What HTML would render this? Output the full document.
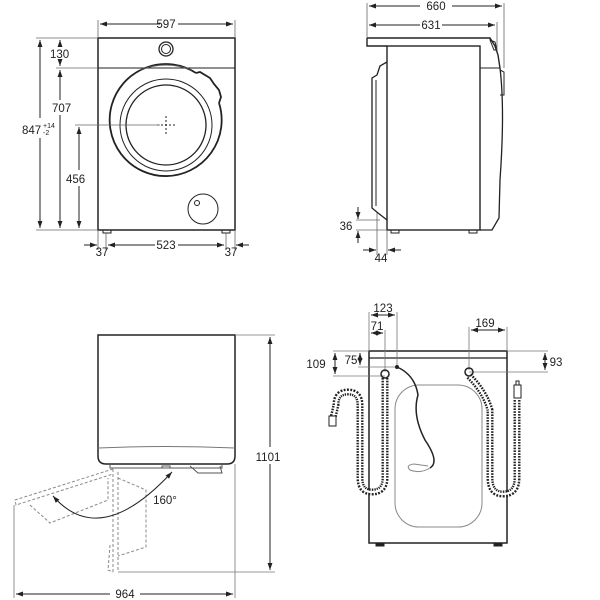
<!DOCTYPE html>
<html><head><meta charset="utf-8"><style>
html,body{margin:0;padding:0;background:#fff}
svg{display:block}
text{font-family:"Liberation Sans",sans-serif;font-size:11.5px;fill:#222}
</style></head><body>
<svg width="600" height="600" viewBox="0 0 600 600" xmlns="http://www.w3.org/2000/svg">
<defs>
<marker id="a" viewBox="0 0 10 10" refX="10" refY="5" markerWidth="7" markerHeight="7" orient="auto-start-reverse"><path d="M0,1.5 L10,5 L0,8.5 z" fill="#222"/></marker>
</defs>
<g fill="none" stroke="#222" stroke-width="1">
<!-- FRONT VIEW -->
<rect x="98" y="38" width="137" height="192" stroke-width="1.5"/>
<line x1="98" y1="68" x2="235" y2="68"/>
<circle cx="166" cy="49" r="7" stroke-width="1.3"/><circle cx="166" cy="49" r="4.5"/>
<path d="M196,73 A56,56 0 1 0 219,103" stroke-width="1.8"/>
<path d="M196,73 L200,72 L210,78 L214,84 L219,90 L221,97 L219,103" stroke-width="1.8"/>
<path d="M140,70 Q166,60 192,70" stroke="#555"/>
<circle cx="166" cy="125" r="46"/><circle cx="166" cy="125" r="40" stroke-width="1.3"/>
<g stroke-dasharray="2,2"><line x1="166" y1="116" x2="166" y2="134"/><line x1="157" y1="125" x2="175" y2="125"/></g>
<circle cx="203" cy="209" r="15"/><circle cx="197" cy="203" r="2.5"/>
<rect x="103" y="230" width="8" height="3"/><rect x="222" y="230" width="8" height="3"/>
<g stroke="#666" stroke-width="0.8">
<line x1="98" y1="20" x2="98" y2="38"/><line x1="235" y1="20" x2="235" y2="38"/>
<line x1="36" y1="38" x2="98" y2="38"/><line x1="36" y1="230" x2="98" y2="230"/>
<line x1="56" y1="68" x2="98" y2="68"/><line x1="75" y1="125" x2="160" y2="125"/>
<line x1="98" y1="230" x2="98" y2="250"/><line x1="235" y1="230" x2="235" y2="250"/>
<line x1="106" y1="233" x2="106" y2="250"/><line x1="226" y1="233" x2="226" y2="250"/>
</g>
<line x1="100" y1="24" x2="160" y2="24" marker-start="url(#a)"/><line x1="178" y1="24" x2="233" y2="24" marker-end="url(#a)"/>
<line x1="40" y1="40" x2="40" y2="118" marker-start="url(#a)"/><line x1="40" y1="138" x2="40" y2="228" marker-end="url(#a)"/>
<line x1="60" y1="40" x2="60" y2="46" marker-start="url(#a)"/><line x1="60" y1="62" x2="60" y2="66" marker-end="url(#a)"/>
<line x1="60" y1="70" x2="60" y2="100" marker-start="url(#a)"/><line x1="60" y1="115" x2="60" y2="228" marker-end="url(#a)"/>
<line x1="79" y1="127" x2="79" y2="170" marker-start="url(#a)"/><line x1="79" y1="186" x2="79" y2="228" marker-end="url(#a)"/>
<line x1="108" y1="245" x2="155" y2="245" marker-start="url(#a)"/><line x1="178" y1="245" x2="224" y2="245" marker-end="url(#a)"/>
<line x1="84" y1="245" x2="97" y2="245" marker-end="url(#a)"/><line x1="249" y1="245" x2="236" y2="245" marker-end="url(#a)"/>

<!-- SIDE VIEW -->
<path d="M367,38 L490,38 L495,46 L498,55 L500,68" stroke-width="1.4"/>
<path d="M367,38 L367,46 L387,46" stroke-width="1.4"/>
<rect x="387" y="46" width="93" height="184" stroke-width="1.4"/>
<line x1="480" y1="68" x2="500" y2="68"/>
<path d="M500,68 Q505,110 500,180 L499,218 L492,230 L480,230" stroke-width="1.3"/>
<path d="M500,70 L504,72 L504,95 L500,95"/>
<path d="M490,40 L494,50 L497,50 L495,42 z"/>
<path d="M387,62 L380,66 L377,75 L372,78 L372,208 L378,213 L387,220" stroke-width="1.3"/>
<path d="M376,80 L376,206"/>
<rect x="391" y="230" width="8" height="3"/><rect x="469" y="230" width="8" height="3"/>
<g stroke="#666" stroke-width="0.8">
<line x1="367" y1="3" x2="367" y2="38"/><line x1="504" y1="3" x2="504" y2="68"/><line x1="497" y1="22" x2="497" y2="50"/>
<line x1="356" y1="220" x2="380" y2="220"/><line x1="356" y1="230" x2="387" y2="230"/>
<line x1="377" y1="213" x2="377" y2="255"/><line x1="387" y1="230" x2="387" y2="255"/>
</g>
<line x1="369" y1="6" x2="420" y2="6" marker-start="url(#a)"/><line x1="452" y1="6" x2="502" y2="6" marker-end="url(#a)"/>
<line x1="369" y1="25" x2="420" y2="25" marker-start="url(#a)"/><line x1="442" y1="25" x2="495" y2="25" marker-end="url(#a)"/>
<line x1="358" y1="207" x2="358" y2="219" marker-end="url(#a)"/><line x1="358" y1="243" x2="358" y2="231" marker-end="url(#a)"/>
<line x1="363" y1="250" x2="376" y2="250" marker-end="url(#a)"/><line x1="401" y1="250" x2="388" y2="250" marker-end="url(#a)"/>

<!-- TOP VIEW -->
<path d="M98,335 L235,335 L235,456 Q235,464 227,464 L106,464 Q98,464 98,456 z" stroke-width="1.5"/>
<path d="M98,448 Q166,445 235,448" stroke="#777"/>
<path d="M110,464 L110,468 L222,468 L222,464" stroke="#555"/>
<path d="M190,466 L198,473 L222,473 L220,466" stroke="#555"/>
<rect x="162" y="466" width="8" height="2" stroke="#555"/>
<g stroke="#888" stroke-dasharray="3,2">
<path d="M113,469 L15,500 L16,505 L113,474"/>
<path d="M30,505 L50,523 L108,500 L108,478"/>
<path d="M113,469 L113,572 M118,472 L118,572"/>
<path d="M118,478 L146,490 L146,547 L118,556"/>
<path d="M110,545 L108,570 L113,572"/>
</g>
<path d="M53,496 Q100,550 172,472" marker-start="url(#a)" marker-end="url(#a)"/>
<g stroke="#777" stroke-width="0.8">
<line x1="235" y1="335" x2="275" y2="335"/><line x1="118" y1="572" x2="275" y2="572"/>
<line x1="14" y1="505" x2="14" y2="598"/><line x1="235" y1="464" x2="235" y2="598"/>
</g>
<line x1="270" y1="337" x2="270" y2="447" marker-start="url(#a)"/><line x1="270" y1="464" x2="270" y2="570" marker-end="url(#a)"/>
<line x1="16" y1="594" x2="110" y2="594" marker-start="url(#a)"/><line x1="140" y1="594" x2="233" y2="594" marker-end="url(#a)"/>

<!-- BACK VIEW -->
<rect x="369" y="351" width="138" height="192" stroke-width="1.5"/>
<line x1="369" y1="358" x2="507" y2="358" stroke-width="1.3"/>
<rect x="395" y="385" width="87" height="142" rx="24" stroke="#888"/>
<rect x="376" y="543" width="8" height="3" fill="#222"/><rect x="494" y="543" width="8" height="3" fill="#222"/>
<g stroke="#777" stroke-width="0.8">
<line x1="369" y1="312" x2="369" y2="351"/><line x1="397" y1="312" x2="397" y2="367"/><line x1="385" y1="330" x2="385" y2="372"/>
<line x1="469" y1="327" x2="469" y2="370"/><line x1="507" y1="327" x2="507" y2="351"/>
<line x1="333" y1="351" x2="369" y2="351"/><line x1="333" y1="376" x2="385" y2="376"/><line x1="358" y1="367" x2="397" y2="367"/>
<line x1="507" y1="351" x2="548" y2="351"/><line x1="469" y1="372" x2="548" y2="372"/>
</g>
<line x1="371" y1="315" x2="395" y2="315" marker-start="url(#a)" marker-end="url(#a)"/>
<line x1="371" y1="333" x2="383" y2="333" marker-start="url(#a)" marker-end="url(#a)"/>
<line x1="471" y1="330" x2="505" y2="330" marker-start="url(#a)" marker-end="url(#a)"/>
<line x1="335" y1="353" x2="335" y2="374" marker-start="url(#a)" marker-end="url(#a)"/>
<line x1="360" y1="353" x2="360" y2="365" marker-start="url(#a)" marker-end="url(#a)"/>
<line x1="545" y1="353" x2="545" y2="370" marker-start="url(#a)" marker-end="url(#a)"/>
<!-- hoses -->
<g stroke="#222" stroke-width="7" stroke-dasharray="1.6,1.2">
<path d="M385,378 L385,478 Q385,492 372,492 Q360,492 360,478 L360,405 Q360,392 348,392 Q336,392 336,405 L333,418"/>
<path d="M469,376 Q485,392 490,410 L490,478 Q490,494 503,494 Q517,494 517,478 L517,400"/>
</g>
<g stroke="#fff" stroke-width="2.2">
<path d="M385,378 L385,478 Q385,492 372,492 Q360,492 360,478 L360,405 Q360,392 348,392 Q336,392 336,405 L333,418"/>
<path d="M469,376 Q485,392 490,410 L490,478 Q490,494 503,494 Q517,494 517,478 L517,400"/>
</g>
<circle cx="385" cy="374" r="4" stroke-width="1.5"/><circle cx="469" cy="372" r="4" stroke-width="1.5"/>
<rect x="329" y="416" width="7" height="10" fill="#fff"/>
<rect x="514" y="385" width="7" height="13" fill="#fff"/><rect x="516" y="381" width="3" height="4"/>
<path d="M397,367 Q415,375 418,395 Q412,415 425,440 Q440,462 430,468" stroke-width="1.5"/>
<path d="M430,468 Q420,474 410,470 Q405,465 414,464 L428,466" stroke="#888"/>
<circle cx="397" cy="367" r="1.5" fill="#222"/>
</g>
<text x="166" y="28" text-anchor="middle">597</text>
<text x="50" y="58" text-anchor="start">130</text>
<text x="52" y="112">707</text>
<text x="66" y="183">456</text>
<text x="22" y="134">847</text><text x="43" y="128" style="font-size:7px">+14</text><text x="43" y="135" style="font-size:7px">-2</text>
<text x="166" y="249" text-anchor="middle">523</text>
<text x="102" y="256" text-anchor="middle">37</text>
<text x="231" y="256" text-anchor="middle">37</text>
<text x="436" y="10" text-anchor="middle">660</text>
<text x="431" y="29" text-anchor="middle">631</text>
<text x="346" y="230" text-anchor="middle">36</text>
<text x="381" y="262" text-anchor="middle">44</text>
<text x="268" y="461" text-anchor="middle">1101</text>
<text x="125" y="598" text-anchor="middle">964</text>
<text x="165" y="504" text-anchor="middle">160°</text>
<text x="383" y="312" text-anchor="middle">123</text>
<text x="377" y="330" text-anchor="middle">71</text>
<text x="485" y="327" text-anchor="middle">169</text>
<text x="316" y="368" text-anchor="middle">109</text>
<text x="351" y="364" text-anchor="middle">75</text>
<text x="556" y="366" text-anchor="middle">93</text>
</svg>
</body></html>
